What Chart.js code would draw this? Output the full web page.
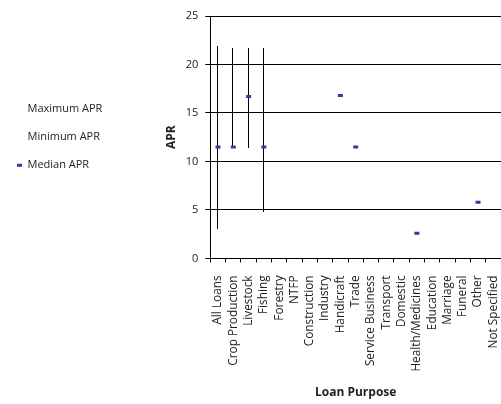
<!DOCTYPE html>
<html>
<head>
<meta charset="utf-8">
<script src="https://cdn.jsdelivr.net/npm/chart.js@4"></script>
<style>
  body { margin: 0; background: #fff; }
  #wrap { width: 501px; height: 404px; }
</style>
</head>
<body>
<div id="wrap"><canvas id="aprChart" width="501" height="404"></canvas></div>
<script>
// loan purposes along the x axis
const categories = ['All Loans', 'Crop Production', 'Livestock', 'Fishing', 'Forestry', 'NTFP',
  'Construction', 'Industry', 'Handicraft', 'Trade', 'Service Business', 'Transport', 'Domestic',
  'Health/Medicines', 'Education', 'Marriage', 'Funeral', 'Other', 'Not Specified'];

// APR values
const maxAPR = [21.9, 21.7, 21.7, 21.7, null, null, null, null, null, null, null, null, null, null, null, null, null, null, null];
const minAPR = [3.0, 11.4, 11.4, 4.75, null, null, null, null, null, null, null, null, null, null, null, null, null, null, null];
const medianAPR = [11.5, 11.5, 16.7, 11.5, null, null, null, null, 16.8, 11.5, null, null, null, 2.6, null, null, null, 5.8, null];

const yTicks = [0, 5, 10, 15, 20, 25];
const seriesNames = ['Maximum APR', 'Minimum APR', 'Median APR'];

const medianBlue = '#2b3f9c';
const textCol = '#222';
const fontFam = '"Open Sans", "DejaVu Sans", sans-serif';

// high-low lines: drawn from max/min through the chart scales, snapped to whole pixels
const hiLoLines = {
  id: 'hiLoLines',
  beforeDatasetsDraw(chart) {
    const { ctx, scales: { x, y } } = chart;
    ctx.save();
    ctx.strokeStyle = '#000';
    ctx.lineWidth = 1;
    maxAPR.forEach((hi, i) => {
      const lo = minAPR[i];
      if (hi == null || lo == null) return;
      const px = Math.round(x.getPixelForValue(i)) - 0.5;
      ctx.beginPath();
      ctx.moveTo(px, Math.round(y.getPixelForValue(hi)));
      ctx.lineTo(px, Math.round(y.getPixelForValue(lo)));
      ctx.stroke();
    });
    ctx.restore();
  }
};

new Chart(document.getElementById('aprChart'), {
  type: 'line',
  data: {
    labels: categories,
    datasets: [
      {
        label: seriesNames[0],
        data: maxAPR,
        showLine: false,
        pointRadius: 0,
        borderWidth: 0,
        backgroundColor: 'rgba(0,0,0,0)',
        borderColor: 'rgba(0,0,0,0)'
      },
      {
        label: seriesNames[1],
        data: minAPR,
        showLine: false,
        pointRadius: 0,
        borderWidth: 0,
        backgroundColor: 'rgba(0,0,0,0)',
        borderColor: 'rgba(0,0,0,0)'
      },
      {
        label: seriesNames[2],
        data: medianAPR,
        showLine: false,
        pointStyle: 'line',
        pointRadius: 2.5,
        pointBorderWidth: 3,
        pointBorderColor: medianBlue,
        pointBackgroundColor: medianBlue,
        borderWidth: 0,
        backgroundColor: medianBlue,
        borderColor: medianBlue
      }
    ]
  },
  options: {
    responsive: false,
    animation: false,
    layout: { autoPadding: false, padding: { top: 16, right: 0, bottom: 4, left: 0 } },
    plugins: {
      tooltip: { enabled: false },
      legend: {
        position: 'left',
        fullSize: false,
        labels: {
          boxWidth: 5,
          boxHeight: 3,
          padding: 17,
          color: textCol,
          font: { family: fontFam, size: 11 },
          generateLabels: chart => seriesNames.map((name, i) => ({
            text: name,
            fillStyle: i === 2 ? medianBlue : 'rgba(0,0,0,0)',
            strokeStyle: 'rgba(0,0,0,0)',
            lineWidth: 0,
            hidden: false,
            datasetIndex: i,
            fontColor: textCol
          }))
        }
      }
    },
    scales: {
      x: {
        offset: true,
        afterFit: s => { s.paddingRight = 0; },
        grid: { offset: true, drawOnChartArea: false, drawTicks: true, tickLength: 4, color: '#000' },
        border: { color: '#000', width: 1 },
        ticks: {
          minRotation: 90,
          maxRotation: 90,
          autoSkip: false,
          padding: 13,
          color: textCol,
          font: { family: fontFam, size: 11.8 }
        },
        title: {
          display: true,
          text: 'Loan Purpose',
          color: textCol,
          padding: { top: 1, bottom: 0 },
          font: { family: fontFam, size: 12, weight: 'bold' }
        }
      },
      y: {
        min: 0,
        max: 25,
        afterBuildTicks: axis => { axis.ticks = yTicks.map(v => ({ value: v })); },
        grid: { color: '#000', tickLength: 5 },
        border: { color: '#000', width: 1 },
        ticks: {
          padding: 7,
          color: textCol,
          font: { family: fontFam, size: 11 }
        },
        title: {
          display: true,
          text: 'APR',
          color: textCol,
          padding: { top: 52, bottom: 0 },
          font: { family: fontFam, size: 12, weight: 'bold' }
        }
      }
    }
  },
  plugins: [hiLoLines]
});
</script>
</body>
</html>
